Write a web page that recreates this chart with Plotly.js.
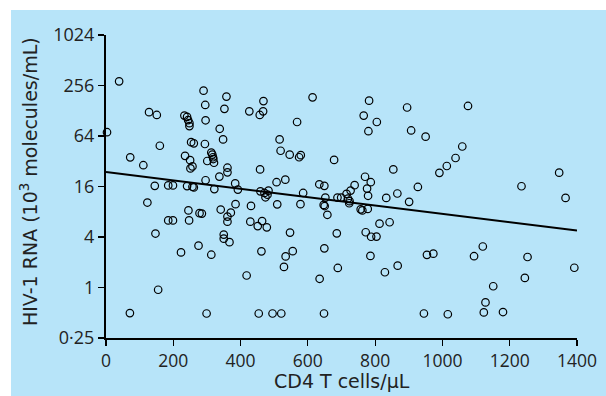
<!DOCTYPE html>
<html>
<head>
<meta charset="utf-8">
<script src="https://cdn.plot.ly/plotly-3.0.1.min.js"></script>
<style>
html,body{margin:0;padding:0;background:#ffffff;}
#chart{position:absolute;left:11px;top:10px;width:595px;height:386px;}
</style>
</head>
<body>
<div id="chart"></div>
<script>
// CD4 T cells/µL
var cd4 = [3,39,72,71,111,123,128,145,147,151,155,160,185,185,199,199,223,233,235,241,241,244,245,247,248,248,250,251,253,257,257,261,261,275,278,285,290,295,296,294,296,299,301,313,316,318,319,321,313,322,337,338,341,348,350,350,352,358,361,361,361,361,367,371,384,385,392,418,426,429,431,451,457,458,459,462,464,454,468,467,471,474,478,480,483,495,507,509,516,519,521,529,533,534,546,547,555,568,574,579,578,586,614,634,635,647,649,650,649,648,652,658,678,686,688,689,699,715,719,723,724,727,739,757,762,766,770,772,776,778,779,780,782,787,786,788,804,805,813,829,833,843,854,866,867,895,901,907,927,945,950,954,973,991,1013,1016,1039,1059,1076,1094,1120,1123,1128,1151,1180,1235,1245,1253,1347,1366,1392];
// HIV-1 RNA (10^3 molecules/mL)
var rna = [71,287,35.6,0.495,28.7,10.3,123,16.3,4.4,114,0.94,49,16.5,6.3,16.5,6.3,2.62,112,37.1,108,16.2,99,8.3,6.3,91,84,33,26.3,54,27.8,15.9,52.3,15.6,3.15,7.7,7.6,222,150,98.5,51.4,19,0.49,32.2,40.6,38.4,35.7,34,30.7,2.46,14.9,21,78,8.5,58.3,4.27,3.82,135,189,26.8,23.6,7.0,6.1,3.47,7.8,17.4,9.85,14.7,1.39,126,6.1,9.4,5.4,114,25.6,14,2.7,6.2,0.49,167,126,13.4,11.9,5.22,12.8,14.3,0.49,18,9.8,58.3,42.7,0.49,1.76,19.3,2.35,38.3,4.52,2.71,94,35.7,37.8,9.86,13.4,185,17,1.27,9.65,16.3,9.36,2.93,0.49,11.8,7.36,33.2,4.42,11.8,1.71,11.8,13.1,11.45,10.1,10.7,14.3,16.6,8.55,8.3,112,20.9,4.56,15.1,8.65,12.4,73,169,18,2.38,4.03,4.05,94,5.77,1.52,11.7,6.0,25.6,13.2,1.82,140,10.5,74.5,15.8,0.49,62.8,2.45,2.53,23.3,28.1,0.48,35,48,146,2.36,3.08,0.505,0.664,1.035,0.51,16.1,1.3,2.31,23.4,11.7,1.72];
// regression line end points
var fitX = [0, 1400];
var fitY = [23.8, 4.77];

var xTicks = [0,200,400,600,800,1000,1200,1400];
var yTickVals = [0.25,1,4,16,64,256,1024];
var yTickText = ['0·25','1','4','16','64','256','1024'];
var xTitle = 'CD4 T cells/μL';
var yTitle = 'HIV-1 RNA (10<sup>3</sup> molecules/mL)';

var fontFam = '"Open Sans", "Noto Sans", sans-serif';
var titleFam = '"DejaVu Sans", "Open Sans", sans-serif';
var txtCol = '#222222';

var traces = [
  {
    x: cd4, y: rna, type: 'scatter', mode: 'markers',
    marker: {symbol: 'circle-open', size: 7.5, color: '#000000', line: {width: 1.2, color: '#000000'}},
    cliponaxis: false, hoverinfo: 'skip'
  },
  {
    x: fitX, y: fitY, type: 'scatter', mode: 'lines',
    line: {color: '#000000', width: 2}, hoverinfo: 'skip'
  }
];

var layout = {
  width: 595, height: 386,
  margin: {l: 95, r: 29, t: 25, b: 58, pad: 0},
  paper_bgcolor: '#b7e4f9',
  plot_bgcolor: '#b7e4f9',
  showlegend: false,
  font: {family: fontFam, size: 18, color: txtCol},
  xaxis: {
    range: [0, 1400], tickvals: xTicks, ticktext: xTicks.map(String),
    showgrid: false, zeroline: false, showline: true, linecolor: '#000000', linewidth: 2,
    ticks: 'outside', ticklen: 6, tickwidth: 1.2, tickcolor: '#000000',
    tickfont: {family: fontFam, size: 17.5, color: txtCol}
  },
  yaxis: {
    type: 'log', range: [Math.log10(0.25), Math.log10(1024)],
    tickvals: yTickVals, ticktext: yTickText,
    showgrid: false, zeroline: false, showline: true, linecolor: '#000000', linewidth: 2,
    ticks: 'outside', ticklen: 6, tickwidth: 1.5, tickcolor: '#000000',
    tickfont: {family: fontFam, size: 18, color: txtCol}
  },
  annotations: [
    {text: xTitle, xref: 'paper', yref: 'paper', x: 0.5, y: -0.143, xanchor: 'center', yanchor: 'middle',
     showarrow: false, font: {family: titleFam, size: 19, color: txtCol}},
    {text: yTitle, xref: 'paper', yref: 'paper', x: -0.1635, y: 0.518, xanchor: 'center', yanchor: 'middle',
     textangle: -90, showarrow: false, font: {family: titleFam, size: 19, color: txtCol}}
  ]
};

Plotly.newPlot('chart', traces, layout, {staticPlot: true, displayModeBar: false});
</script>
</body>
</html>
